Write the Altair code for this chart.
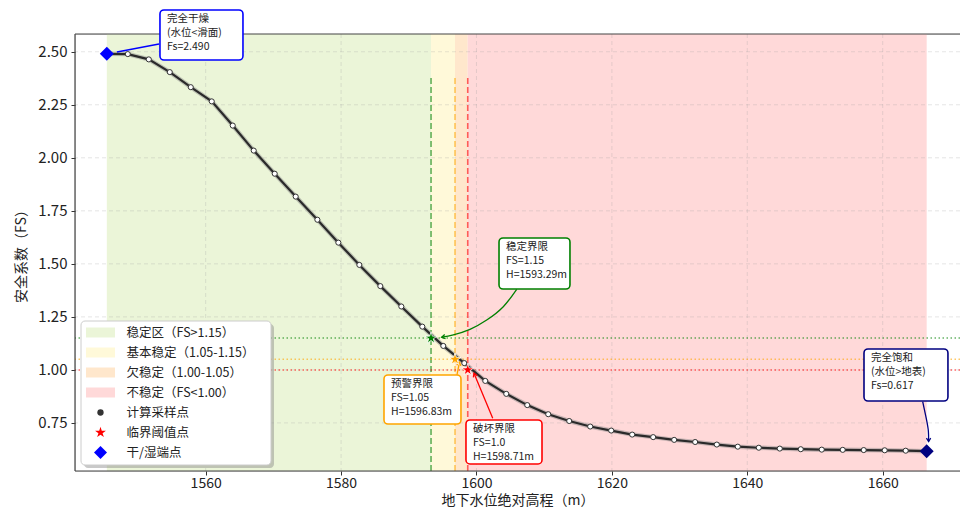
import altair as alt
import pandas as pd

# ---------------- data ----------------
H = [1545.4, 1548.5, 1551.6, 1554.7, 1557.8, 1560.9, 1564.0, 1567.1, 1570.2, 1573.3,
     1576.5, 1579.6, 1582.7, 1585.8, 1588.9, 1592.0, 1595.1, 1598.2, 1601.3, 1604.4,
     1607.5, 1610.6, 1613.7, 1616.8, 1619.9, 1623.0, 1626.1, 1629.2, 1632.3, 1635.5,
     1638.6, 1641.7, 1644.8, 1647.9, 1651.0, 1654.1, 1657.2, 1660.3, 1663.4, 1666.5]
FS = [2.490, 2.489, 2.464, 2.404, 2.333, 2.266, 2.152, 2.034, 1.925, 1.817,
      1.708, 1.600, 1.495, 1.395, 1.299, 1.204, 1.113, 1.032, 0.948, 0.887,
      0.834, 0.791, 0.759, 0.733, 0.714, 0.695, 0.683, 0.670, 0.660, 0.648,
      0.638, 0.633, 0.629, 0.626, 0.624, 0.623, 0.622, 0.621, 0.619, 0.617]

H_CRIT = [1593.29, 1596.83, 1598.71]
FS_CRIT = [1.15, 1.05, 1.0]
CRIT_NAMES = ["稳定界限", "预警界限", "破坏界限"]

ZONE_LABELS = ["稳定区（FS>1.15）", "基本稳定（1.05-1.15）", "欠稳定（1.00-1.05）", "不稳定（FS<1.00）"]
POINT_LABELS = ["计算采样点", "临界阈值点", "干/湿端点"]
END_TEXT = ["完全干燥\n(水位<滑面)", "完全饱和\n(水位>地表)"]

X_TICKS = [1560, 1580, 1600, 1620, 1640, 1660]
Y_TICKS = [0.75, 1.00, 1.25, 1.50, 1.75, 2.00, 2.25, 2.50]

# ---------------- styles ----------------
ZONE_COLORS = ["#ebf5d8", "#fff9d9", "#ffe7cc", "#ffd9d9"]
CRIT_COLORS = ["#008000", "#ffa500", "#ff0000"]
END_COLORS = ["#0000ff", "#000080"]
STAR = ("M0,-1L0.2245,-0.309L0.951,-0.309L0.363,0.118L0.588,0.809L0,0.382"
        "L-0.588,0.809L-0.363,0.118L-0.951,-0.309L-0.2245,-0.309Z")
VHEAD = "M-1,-0.6L0,0L-1,0.6"

X_DOM = [1540.7, 1671.42]
Y_DOM = [0.5233, 2.5837]
V_TOP = 2.378

xs = alt.Scale(domain=X_DOM, nice=False, zero=False)
ys = alt.Scale(domain=Y_DOM, nice=False, zero=False)
FONT = "Noto Sans CJK SC"
FRAME = "#444444"

AX_X = alt.Axis(values=X_TICKS, format="d", title="地下水位绝对高程（m）", grid=False,
                domain=False, tickSize=4, tickColor="#333", labelFontSize=14,
                titleFontSize=14, labelPadding=1, titlePadding=3, labelColor="#222",
                titleColor="#222", titleFontWeight="normal", labelFont=FONT, titleFont=FONT)
AX_Y = alt.Axis(values=Y_TICKS, format=".2f", title="安全系数（FS）", grid=False,
                domain=False, tickSize=4, tickColor="#333", labelFontSize=15,
                titleFontSize=14, labelPadding=4, titlePadding=9, labelColor="#222",
                titleColor="#222", titleFontWeight="normal", labelFont=FONT, titleFont=FONT)


def X(field, **kw):
    return alt.X(field, scale=xs, axis=AX_X, **kw)


def Y(field, **kw):
    return alt.Y(field, scale=ys, axis=AX_Y, **kw)


layers = []

# zones
bounds = [H[0]] + H_CRIT + [H[-1]]
zone_df = pd.DataFrame({"x1": bounds[:-1], "x2": bounds[1:], "zone": ZONE_LABELS,
                        "col": ZONE_COLORS})
layers.append(alt.Chart(zone_df).mark_rect().encode(
    x=X("x1:Q"), x2="x2:Q",
    y=alt.Y(datum=Y_DOM[0], scale=ys, axis=AX_Y), y2=alt.datum(Y_DOM[1]),
    fill=alt.Fill("col:N", scale=None)))

# grid
layers.append(alt.Chart(pd.DataFrame({"v": X_TICKS})).mark_rule(
    color="#a0a0a0", strokeDash=[4, 3], strokeWidth=0.8, opacity=0.35).encode(x=X("v:Q")))
layers.append(alt.Chart(pd.DataFrame({"v": Y_TICKS})).mark_rule(
    color="#a0a0a0", strokeDash=[4, 3], strokeWidth=0.8, opacity=0.35).encode(y=Y("v:Q")))

crit_df = pd.DataFrame({"h": H_CRIT, "fs": FS_CRIT, "col": CRIT_COLORS})

# threshold lines
layers.append(alt.Chart(crit_df).mark_rule(strokeDash=[6, 3], strokeWidth=1.6, opacity=0.6).encode(
    x=X("h:Q"), y=alt.Y(datum=Y_DOM[0], scale=ys, axis=AX_Y), y2=alt.datum(V_TOP),
    stroke=alt.Stroke("col:N", scale=None)))
layers.append(alt.Chart(crit_df).mark_rule(strokeDash=[1.5, 2.5], strokeWidth=1.5, opacity=0.6).encode(
    y=Y("fs:Q"), stroke=alt.Stroke("col:N", scale=None)))

# frame (top, bottom, left spines)
layers.append(alt.Chart(pd.DataFrame({"v": Y_DOM})).mark_rule(color=FRAME, strokeWidth=1.2).encode(
    y=Y("v:Q")))
layers.append(alt.Chart(pd.DataFrame({"v": [X_DOM[0]]})).mark_rule(color=FRAME, strokeWidth=1.2).encode(
    x=X("v:Q")))

# curve
curve_df = pd.DataFrame({"h": H, "fs": FS})
layers.append(alt.Chart(curve_df).mark_line(color="#888", strokeWidth=4.5, opacity=0.45).encode(
    x=X("h:Q"), y=Y("fs:Q")))
layers.append(alt.Chart(curve_df).mark_line(color="#2a2a2a", strokeWidth=2.2).encode(
    x=X("h:Q"), y=Y("fs:Q")))
layers.append(alt.Chart(curve_df.iloc[1:-1]).mark_point(
    filled=True, fill="white", stroke="#333", strokeWidth=1, size=26, opacity=1).encode(
    x=X("h:Q"), y=Y("fs:Q")))

end_df = pd.DataFrame({"h": [H[0], H[-1]], "fs": [FS[0], FS[-1]], "col": END_COLORS})

# annotation arrows
arrows = pd.DataFrame([
    ("a0", 0, 1553.11, 2.5365, END_COLORS[0]), ("a0", 1, 1546.9, 2.4988, END_COLORS[0]),
    ("a1", 0, 1605.94, 1.380, CRIT_COLORS[0]), ("a1", 1, 1603.96, 1.298, CRIT_COLORS[0]),
    ("a1", 2, 1601.51, 1.235, CRIT_COLORS[0]), ("a1", 3, 1599.04, 1.191, CRIT_COLORS[0]),
    ("a1", 4, 1596.58, 1.165, CRIT_COLORS[0]), ("a1", 5, 1594.86, 1.154, CRIT_COLORS[0]),
    ("a2", 0, 1597.12, 0.976, CRIT_COLORS[1]), ("a2", 1, 1597.49, 1.037, CRIT_COLORS[1]),
    ("a3", 0, 1602.40, 0.772, CRIT_COLORS[2]), ("a3", 1, 1599.63, 0.984, CRIT_COLORS[2]),
    ("a4", 0, 1665.91, 0.850, END_COLORS[1]), ("a4", 1, 1666.39, 0.779, END_COLORS[1]),
    ("a4", 2, 1666.73, 0.717, END_COLORS[1]), ("a4", 3, 1666.78, 0.662, END_COLORS[1]),
], columns=["id", "ord", "x", "y", "col"])
layers.append(alt.Chart(arrows).mark_line(strokeWidth=1.3, interpolate="natural").encode(
    x=X("x:Q"), y=Y("y:Q"), detail="id:N", order="ord:Q",
    stroke=alt.Stroke("col:N", scale=None)))
heads = pd.DataFrame({
    "x": [1594.86, 1597.49, 1599.63, 1666.78],
    "y": [1.154, 1.037, 0.984, 0.662],
    "ang": [168.8, 281.0, 247.4, 90.0],
    "col": [CRIT_COLORS[0], CRIT_COLORS[1], CRIT_COLORS[2], END_COLORS[1]],
})
layers.append(alt.Chart(heads).mark_point(shape=VHEAD, filled=False, strokeWidth=1.3,
                                          size=49, opacity=1).encode(
    x=X("x:Q"), y=Y("y:Q"), angle=alt.Angle("ang:Q", scale=None),
    stroke=alt.Stroke("col:N", scale=None)))

layers.append(alt.Chart(crit_df).mark_point(shape=STAR, filled=True, size=160, stroke="white",
                                            strokeWidth=0.8, opacity=1).encode(
    x=X("h:Q"), y=Y("fs:Q"), fill=alt.Fill("col:N", scale=None)))
layers.append(alt.Chart(end_df).mark_point(shape="diamond", filled=True, size=196, opacity=1).encode(
    x=X("h:Q"), y=Y("fs:Q"), fill=alt.Fill("col:N", scale=None)))

# annotation boxes
box_df = pd.DataFrame({
    "x1": [1553.25, 1603.33, 1586.34, 1598.45, 1657.24],
    "x2": [1565.51, 1613.81, 1597.71, 1609.68, 1669.64],
    "y1": [2.6969, 1.6219, 0.976, 0.7638, 1.0986],
    "y2": [2.4611, 1.3814, 0.7449, 0.5564, 0.8534],
    "col": [END_COLORS[0], CRIT_COLORS[0], CRIT_COLORS[1], CRIT_COLORS[2], END_COLORS[1]],
    "txt": [f"{END_TEXT[0]}\nFs={FS[0]:.3f}"]
           + [f"{n}\nFS={f}\nH={h:.2f}m" for n, f, h in zip(CRIT_NAMES, FS_CRIT, H_CRIT)]
           + [f"{END_TEXT[1]}\nFs={FS[-1]:.3f}"],
})
layers.append(alt.Chart(box_df).mark_rect(fill="white", strokeWidth=1.6, cornerRadius=4).encode(
    x=X("x1:Q"), x2="x2:Q", y=Y("y1:Q"), y2="y2:Q", stroke=alt.Stroke("col:N", scale=None)))
layers.append(alt.Chart(box_df).mark_text(align="left", baseline="top", dx=7, dy=4, fontSize=10.5,
                                          lineBreak="\n", lineHeight=14, color="#222",
                                          font=FONT).encode(
    x=X("x1:Q"), y=Y("y1:Q"), text="txt:N"))

# ---------------- legend (manual) ----------------
one = pd.DataFrame({"k": [0]})
LX0, LX1, LY0, LY1 = 6, 196, 287, 431
ROW0, DROW = 298.5, 20
layers.append(alt.Chart(one).mark_rect(fill="#888", opacity=0.45, cornerRadius=4).encode(
    x=alt.value(LX0 + 3), x2=alt.value(LX1 + 3), y=alt.value(LY0 + 3), y2=alt.value(LY1 + 3)))
layers.append(alt.Chart(one).mark_rect(fill="white", stroke="#cccccc", strokeWidth=1,
                                       cornerRadius=4).encode(
    x=alt.value(LX0), x2=alt.value(LX1), y=alt.value(LY0), y2=alt.value(LY1)))
legend_items = [("patch", c, lab) for c, lab in zip(ZONE_COLORS, ZONE_LABELS)] + [
    ("circle", "#333333", POINT_LABELS[0]),
    ("star", "#ff0000", POINT_LABELS[1]),
    ("diamond", "#0000ff", POINT_LABELS[2]),
]
for i, (kind, col, lab) in enumerate(legend_items):
    yy = ROW0 + i * DROW
    if kind == "patch":
        layers.append(alt.Chart(one).mark_rect(fill=col).encode(
            x=alt.value(11), x2=alt.value(40), y=alt.value(yy - 5), y2=alt.value(yy + 5)))
    else:
        shape = {"circle": "circle", "star": STAR, "diamond": "diamond"}[kind]
        size = {"circle": 40, "star": 130, "diamond": 170}[kind]
        layers.append(alt.Chart(one).mark_point(shape=shape, filled=True, fill=col, size=size,
                                                opacity=1).encode(
            x=alt.value(25.5), y=alt.value(yy)))
    layers.append(alt.Chart(one).mark_text(align="left", baseline="middle", fontSize=12.5,
                                           color="#222", font=FONT).encode(
        x=alt.value(51.5), y=alt.value(yy), text=alt.value(lab)))

chart = alt.layer(*layers).properties(
    width=885, height=437,
    autosize=alt.AutoSizeParams(type="none"),
    padding={"left": 67, "top": 26, "right": 0, "bottom": 39},
).configure_view(stroke=None).configure(font=FONT)

chart.save("out.html", embed_options={"renderer": "svg", "actions": False})
